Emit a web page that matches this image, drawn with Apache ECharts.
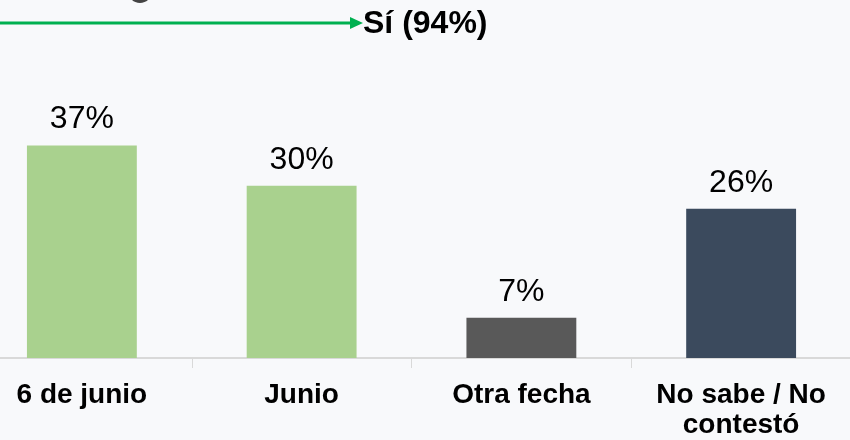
<!DOCTYPE html>
<html><head><meta charset="utf-8">
<script src="https://cdn.jsdelivr.net/npm/echarts@6/dist/echarts.min.js"></script>
<style>html,body{margin:0;padding:0;background:#f8f9fb;overflow:hidden;width:850px;height:440px}#c{position:absolute;left:-28px;top:0;width:879px;height:440px}</style>
</head><body><div id="c"></div>
<script>
var categories = ['6 de junio', 'Junio', 'Otra fecha', 'No sabe / No\ncontestó'];
var values = [37, 30, 7, 26];
var barColors = ['#a9d18e', '#a9d18e', '#595959', '#3b4a5d'];
var headline = 'Sí (94%)';

var dx = 28;
var chart = echarts.init(document.getElementById('c'));
chart.setOption({
  backgroundColor: '#f8f9fb',
  animation: false,
  grid: { left: 0, right: 0, top: 71, bottom: 82, containLabel: false },
  xAxis: {
    type: 'category',
    data: categories,
    axisLine: { lineStyle: { color: '#d9d9d9', width: 2 } },
    axisTick: { show: true, length: 10, lineStyle: { color: '#d9d9d9', width: 1 } },
    axisLabel: {
      interval: 0, margin: 22, color: '#000',
      fontFamily: 'Liberation Sans, Arial', fontWeight: 'bold', fontSize: 28, lineHeight: 30
    }
  },
  yAxis: { type: 'value', min: 0, max: 50, show: false, splitLine: { show: false } },
  series: [{
    type: 'bar',
    barWidth: '50%',
    data: values.map(function (v, i) { return { value: v, itemStyle: { color: barColors[i] } }; }),
    label: {
      show: true, position: 'top', distance: 10, color: '#000',
      fontFamily: 'Liberation Sans, Arial', fontSize: 32,
      formatter: function (p) { return p.value + '%'; }
    }
  }],
  graphic: [
    { type: 'line', shape: { x1: dx, y1: 23, x2: dx + 354, y2: 23 }, style: { stroke: '#00b050', lineWidth: 3 } },
    { type: 'polygon', shape: { points: [[dx + 350, 17], [dx + 363, 23], [dx + 350, 29]] }, style: { fill: '#00b050' } },
    { type: 'text', left: dx + 363, top: 8, style: { text: headline, fill: '#000', font: 'bold 32px "Liberation Sans", Arial' } },
    { type: 'arc', shape: { cx: dx + 140, cy: -9, r: 10, startAngle: 0.4, endAngle: Math.PI - 0.4 }, style: { stroke: '#444', lineWidth: 4, fill: null } }
  ]
});
</script></body></html>
